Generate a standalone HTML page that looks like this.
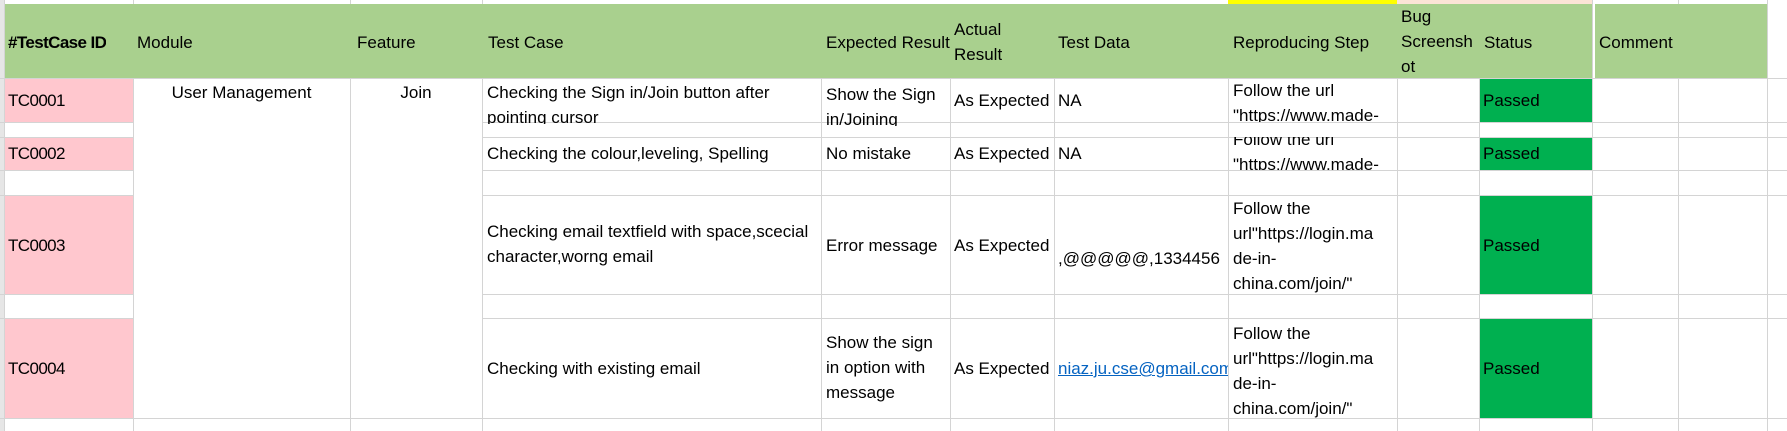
<!DOCTYPE html>
<html><head><meta charset="utf-8"><style>
body{margin:0;width:1787px;height:431px;background:#fff;position:relative;overflow:hidden;font-family:"Liberation Sans",sans-serif;font-size:17px;color:#000}
.b{position:absolute}
.h{position:absolute;height:1px;background:#d4d4d4}
.v{position:absolute;width:1px;background:#d4d4d4}
.c{position:absolute;overflow:hidden;line-height:25px;white-space:nowrap}
.id{letter-spacing:-0.6px}
</style></head><body>
<div class="b" style="left:0;top:0;width:4px;height:431px;background:#e6e6e6"></div>
<div class="b" style="left:1228px;top:0;width:169px;height:4px;background:#ffff00"></div>
<div class="b" style="left:1397px;top:0;width:195px;height:4px;background:#fce4d6"></div>
<div class="b" style="left:4px;top:4px;width:1763px;height:74px;background:#a9d08e"></div>
<div class="b" style="left:1592px;top:4px;width:3px;height:74px;background:#fff"></div>
<div class="b" style="left:4px;top:78px;width:129px;height:44px;background:#ffc7ce"></div>
<div class="b" style="left:4px;top:137px;width:129px;height:33px;background:#ffc7ce"></div>
<div class="b" style="left:4px;top:195px;width:129px;height:99px;background:#ffc7ce"></div>
<div class="b" style="left:4px;top:318px;width:129px;height:100px;background:#ffc7ce"></div>
<div class="b" style="left:1479px;top:78px;width:113px;height:44px;background:#00b050"></div>
<div class="b" style="left:1479px;top:137px;width:113px;height:33px;background:#00b050"></div>
<div class="b" style="left:1479px;top:195px;width:113px;height:99px;background:#00b050"></div>
<div class="b" style="left:1479px;top:318px;width:113px;height:100px;background:#00b050"></div>
<div class="v" style="left:4px;top:0;height:431px"></div>
<div class="v" style="left:133px;top:0;height:4px"></div><div class="v" style="left:133px;top:78px;height:353px"></div>
<div class="v" style="left:350px;top:0;height:4px"></div><div class="v" style="left:350px;top:78px;height:353px"></div>
<div class="v" style="left:482px;top:0;height:4px"></div><div class="v" style="left:482px;top:78px;height:353px"></div>
<div class="v" style="left:821px;top:78px;height:353px"></div>
<div class="v" style="left:950px;top:78px;height:353px"></div>
<div class="v" style="left:1054px;top:78px;height:353px"></div>
<div class="v" style="left:1228px;top:78px;height:353px"></div>
<div class="v" style="left:1397px;top:78px;height:353px"></div>
<div class="v" style="left:1479px;top:78px;height:353px"></div>
<div class="v" style="left:1592px;top:0;height:431px"></div>
<div class="v" style="left:1678px;top:0;height:4px"></div><div class="v" style="left:1678px;top:78px;height:353px"></div>
<div class="v" style="left:1767px;top:0;height:431px"></div>
<div class="h" style="left:0;top:78px;width:1787px"></div>
<div class="h" style="left:0;top:122px;width:133px"></div><div class="h" style="left:482px;top:122px;width:1305px"></div>
<div class="h" style="left:0;top:137px;width:133px"></div><div class="h" style="left:482px;top:137px;width:1305px"></div>
<div class="h" style="left:0;top:170px;width:133px"></div><div class="h" style="left:482px;top:170px;width:1305px"></div>
<div class="h" style="left:0;top:195px;width:133px"></div><div class="h" style="left:482px;top:195px;width:1305px"></div>
<div class="h" style="left:0;top:294px;width:133px"></div><div class="h" style="left:482px;top:294px;width:1305px"></div>
<div class="h" style="left:0;top:318px;width:133px"></div><div class="h" style="left:482px;top:318px;width:1305px"></div>
<div class="h" style="left:0;top:418px;width:1787px"></div>

<div class="c id" style="left:8px;top:30px;font-weight:bold">#TestCase ID</div>
<div class="c" style="left:137px;top:30px">Module</div>
<div class="c" style="left:357px;top:30px">Feature</div>
<div class="c" style="left:488px;top:30px">Test Case</div>
<div class="c" style="left:826px;top:30px;width:124px">Expected Result</div>
<div class="c" style="left:954px;top:17px">Actual<br>Result</div>
<div class="c" style="left:1058px;top:30px">Test Data</div>
<div class="c" style="left:1233px;top:30px">Reproducing Step</div>
<div class="c" style="left:1401px;top:4px;width:78px">Bug<br>Screensh<br>ot</div>
<div class="c" style="left:1484px;top:30px">Status</div>
<div class="c" style="left:1599px;top:30px">Comment</div>

<div class="c id" style="left:8px;top:88px">TC0001</div>
<div class="c" style="left:133px;top:80px;width:217px;text-align:center">User Management</div>
<div class="c" style="left:350px;top:80px;width:132px;text-align:center">Join</div>
<div class="c" style="left:487px;top:78px;height:44px;width:334px;padding-top:2px">Checking the Sign in/Join button after<br>pointing cursor</div>
<div class="c" style="left:826px;top:78px;height:44px;width:124px;padding-top:4px">Show the Sign<br>in/Joining</div>
<div class="c" style="left:954px;top:88px">As Expected</div>
<div class="c" style="left:1058px;top:88px">NA</div>
<div class="c" style="left:1233px;top:78px;height:44px;width:164px">Follow the url<br>"https://www.made-</div>
<div class="c" style="left:1483px;top:88px">Passed</div>

<div class="c id" style="left:8px;top:141px">TC0002</div>
<div class="c" style="left:487px;top:141px">Checking the colour,leveling, Spelling</div>
<div class="c" style="left:826px;top:141px">No mistake</div>
<div class="c" style="left:954px;top:141px">As Expected</div>
<div class="c" style="left:1058px;top:141px">NA</div>
<div class="c" style="left:1233px;top:137px;height:33px;width:164px"><div style="margin-top:-10px">Follow the url<br>"https://www.made-</div></div>
<div class="c" style="left:1483px;top:141px">Passed</div>

<div class="c id" style="left:8px;top:233px">TC0003</div>
<div class="c" style="left:487px;top:219px;width:334px">Checking email textfield with space,scecial<br>character,worng email</div>
<div class="c" style="left:826px;top:233px">Error message</div>
<div class="c" style="left:954px;top:233px">As Expected</div>
<div class="c" style="left:1058px;top:246px;width:170px">,@@@@@,1334456</div>
<div class="c" style="left:1233px;top:196px;width:164px">Follow the<br>url"https://login.ma<br>de-in-<br>china.com/join/"</div>
<div class="c" style="left:1483px;top:233px">Passed</div>

<div class="c id" style="left:8px;top:356px">TC0004</div>
<div class="c" style="left:487px;top:356px">Checking with existing email</div>
<div class="c" style="left:826px;top:330px;width:124px">Show the sign<br>in option with<br>message</div>
<div class="c" style="left:954px;top:356px">As Expected</div>
<div class="c" style="left:1058px;top:356px;width:170px;color:#0563c1;text-decoration:underline">niaz.ju.cse@gmail.com</div>
<div class="c" style="left:1233px;top:321px;width:164px">Follow the<br>url"https://login.ma<br>de-in-<br>china.com/join/"</div>
<div class="c" style="left:1483px;top:356px">Passed</div>
</body></html>
